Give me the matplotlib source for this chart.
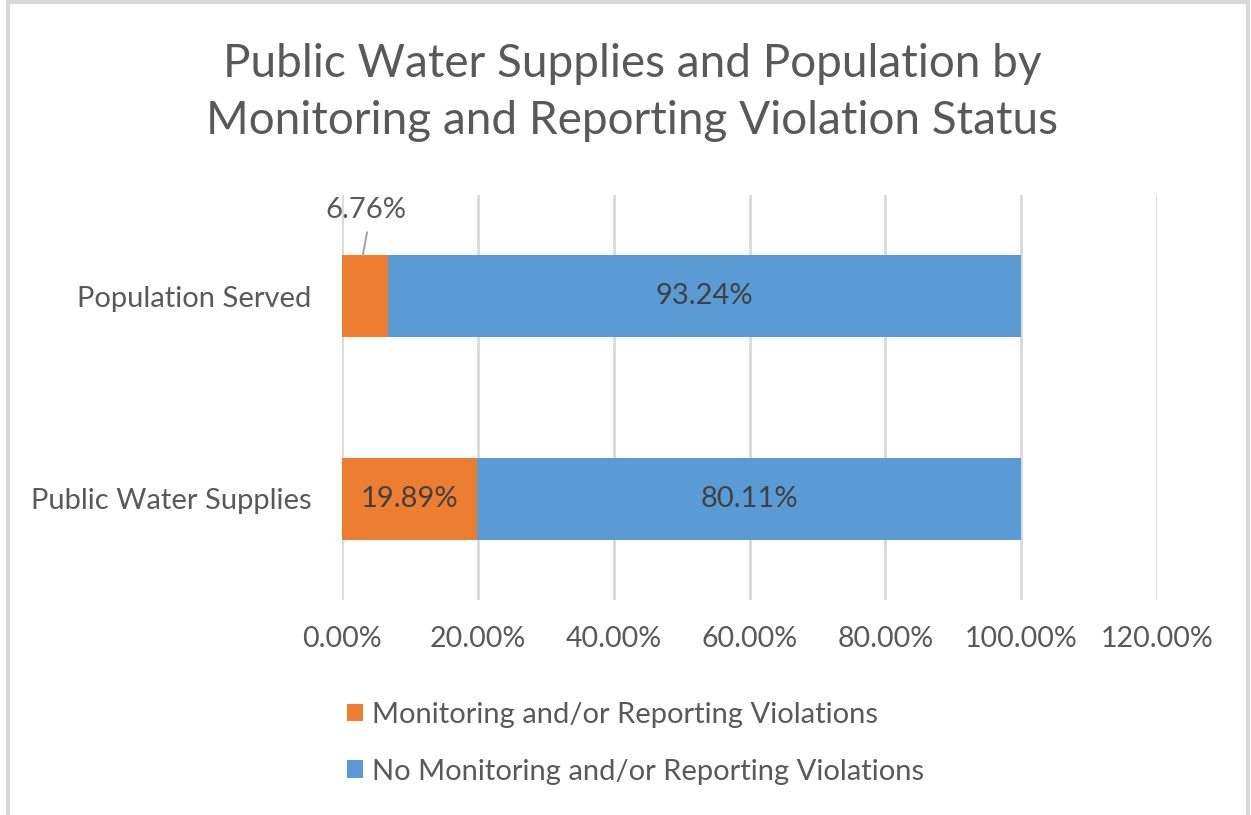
import matplotlib.pyplot as plt
from matplotlib.patches import Rectangle
from matplotlib.ticker import FuncFormatter

plt.rcParams['font.family'] = ['Lato', 'DejaVu Sans']

categories = ['Public Water Supplies', 'Population Served']
violations = [19.89, 6.76]
no_violations = [80.11, 93.24]
series_names = ['Monitoring and/or Reporting Violations',
                'No Monitoring and/or Reporting Violations']
xticks = [0, 20, 40, 60, 80, 100, 120]

orange = '#ED7D31'
blue = '#5B9BD5'
txt = '#595959'

fig = plt.figure(figsize=(12.51, 8.15), dpi=100)
ax = fig.add_axes([0.2734, 0.2638, 0.6515, 0.4969])

y = range(len(categories))
b1 = ax.barh(y, violations, height=0.405, color=orange, label=series_names[0])
b2 = ax.barh(y, no_violations, left=violations, height=0.405, color=blue,
             label=series_names[1])

ax.set_xlim(0, 120)
ax.set_ylim(-0.5, 1.5)
ax.set_xticks(xticks)
ax.xaxis.set_major_formatter(FuncFormatter(lambda v, p: '%.2f%%' % v))
ax.set_yticks(list(y))
ax.set_yticklabels(categories)
ax.tick_params(axis='x', length=0, pad=19, labelsize=20.5, labelcolor=txt)
ax.tick_params(axis='y', length=0, pad=22, labelsize=21, labelcolor=txt)
for s in ax.spines.values():
    s.set_visible(False)
ax.grid(axis='x', color='#D9D9D9', linewidth=2)
ax.set_axisbelow(True)

# etiquetas de datos
for i in y:
    if violations[i] > 10:
        ax.text(violations[i] / 2, i, '%.2f%%' % violations[i], ha='center',
                va='center', fontsize=21, color='#404040')
    else:
        # etiqueta fuera de la barra con linea guia
        xm = violations[i] / 2
        ax.plot([xm - 0.3, xm + 0.3], [i + 0.205, i + 0.315], color='#A6A6A6', lw=1.5)
        ax.text(xm + 0.1, i + 0.36, '%.2f%%' % violations[i], ha='center',
                va='bottom', fontsize=21, color=txt)
    ax.text(violations[i] + no_violations[i] / 2, i, '%.2f%%' % no_violations[i],
            ha='center', va='center', fontsize=21, color='#404040')

fig.text(0.505, 0.922, 'Public Water Supplies and Population by', ha='center',
         va='center', fontsize=33, color=txt)
fig.text(0.505, 0.852, 'Monitoring and Reporting Violation Status', ha='center',
         va='center', fontsize=33, color=txt)

ax.legend(handles=[b1, b2], loc='upper left', bbox_to_anchor=(0.268, 0.153),
          bbox_transform=fig.transFigure, frameon=False, fontsize=21,
          labelcolor=txt, handlelength=0.55, handleheight=0.55,
          handletextpad=0.3, labelspacing=1.05, borderaxespad=0)

fig.patches.append(Rectangle((0.006, -0.01), 0.992, 1.007, transform=fig.transFigure,
                             fill=False, edgecolor='#D9D9D9', linewidth=3))

fig.savefig('out.png', dpi=100)
